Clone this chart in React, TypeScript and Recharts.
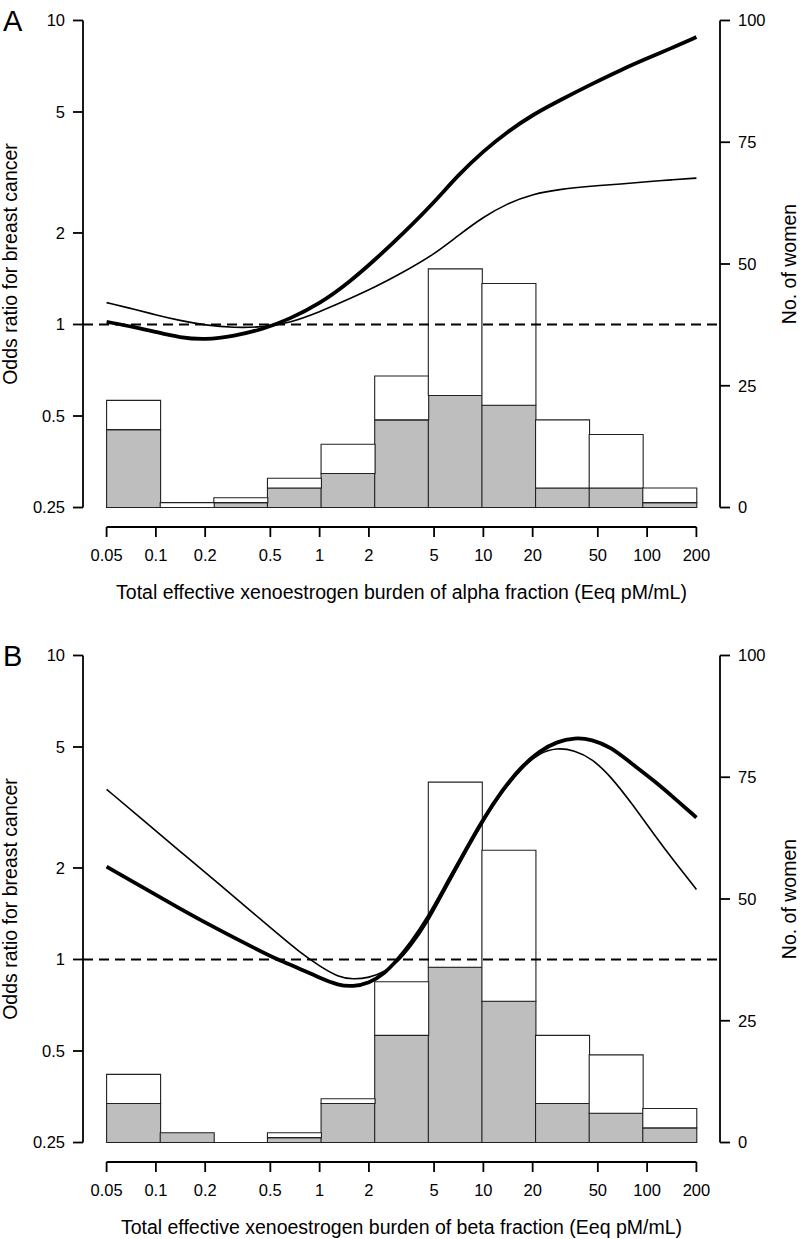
import React from 'react';
import { ComposedChart, Bar, Line, XAxis, YAxis, ReferenceLine } from 'recharts';

// ---------- data ----------
const binLabels = ['0.05–0.1', '0.1–0.2', '0.2–0.5', '0.5–1', '1–2', '2–5', '5–10', '10–20', '20–50', '50–100', '100–200'];

// Panel A (alpha fraction): total women per bin and cases (grey part)
const alphaTotal = [22, 1, 2, 6, 13, 27, 49, 46, 18, 15, 4];
const alphaCases = [16, 0, 1, 4, 7, 18, 23, 21, 4, 4, 1];
// Panel B (beta fraction)
const betaTotal = [14, 2, 0, 2, 9, 33, 74, 60, 22, 18, 7];
const betaCases = [8, 2, 0, 1, 8, 22, 36, 29, 8, 6, 3];

const xTicks = [0.05, 0.1, 0.2, 0.5, 1, 2, 5, 10, 20, 50, 100, 200];
const orTicks = [0.25, 0.5, 1, 2, 5, 10];
const countTicks = [0, 25, 50, 75, 100];

// Odds-ratio curves (thick and thin), panel A
const alphaX = [0.05, 0.075, 0.1, 0.14, 0.2, 0.3, 0.45, 0.65, 1, 1.5, 2.2, 3.2, 5, 7, 10, 14, 20, 30, 45, 70, 100, 140, 200];
const alphaThick = [1.02, 0.98, 0.945, 0.905, 0.89, 0.915, 0.965, 1.04, 1.17, 1.37, 1.64, 1.98, 2.52, 3.1, 3.72, 4.3, 4.9, 5.5, 6.15, 6.9, 7.5, 8.1, 8.82];
const alphaThin = [1.18, 1.12, 1.075, 1.03, 0.995, 0.975, 0.98, 1.01, 1.1, 1.21, 1.33, 1.48, 1.7, 1.96, 2.26, 2.5, 2.69, 2.79, 2.85, 2.9, 2.95, 2.99, 3.03];

// panel B
const betaX = [0.05, 0.08, 0.14, 0.25, 0.4, 0.55, 0.75, 1, 1.3, 1.6, 2, 2.5, 3, 3.6, 4.5, 6, 8, 10, 13, 17, 22, 28, 36, 46, 60, 80, 110, 150, 200];
const betaThick = [2.02, 1.75, 1.47, 1.24, 1.09, 1.0, 0.935, 0.87, 0.822, 0.815, 0.835, 0.9, 1.0, 1.13, 1.34, 1.78, 2.35, 2.9, 3.6, 4.3, 4.85, 5.2, 5.37, 5.3, 5.0, 4.42, 3.88, 3.36, 2.93];
const betaThin = [3.63, 2.93, 2.27, 1.75, 1.41, 1.22, 1.06, 0.95, 0.875, 0.86, 0.87, 0.91, 0.98, 1.1, 1.3, 1.74, 2.3, 2.85, 3.55, 4.25, 4.78, 4.97, 4.88, 4.58, 4.0, 3.28, 2.58, 2.07, 1.7];

// ---------- layout / style ----------
const FONT = '"Liberation Sans", Arial, Helvetica, sans-serif';
const W = 800;
const H = 635;
const LEFT_W = 83;
const RIGHT_W = 80;
const XAXIS_H = 108;
const TOP = 1;
const PLOT_W = W - LEFT_W - RIGHT_W;
const EXT = 0.04; // R-style 4% axis extension
const BAR_PAD = (PLOT_W * EXT) / (1 + 2 * EXT);

const xPad = EXT * Math.log10(200 / 0.05);
const xDomain = [0.05 / Math.pow(10, xPad), 200 * Math.pow(10, xPad)];
const yPad = EXT * Math.log10(10 / 0.25);
const orDomain = [0.25 / Math.pow(10, yPad), 10 * Math.pow(10, yPad)];
const countDomain = [-4, 104];

const AX = { stroke: '#000', strokeWidth: 1.8 };
const tickStyle = { fill: '#000', fontSize: 16.5, fontFamily: FONT };

function Panel({ letter, total, cases, curveX, thick, thin, xTitle }: any) {
  const bars = binLabels.map((b, i) => ({ bin: b, cases: cases[i], rest: total[i] - cases[i] }));
  const thickData = curveX.map((x: number, i: number) => ({ x, or: thick[i] }));
  const thinData = curveX.map((x: number, i: number) => ({ x, or: thin[i] }));
  return (
    <div style={{ position: 'relative', width: W, height: H }}>
      <div style={{ position: 'absolute', left: 3, top: 7, fontFamily: FONT, fontSize: 29, lineHeight: '29px', color: '#000' }}>{letter}</div>
      <ComposedChart
        width={W}
        height={H}
        data={bars}
        margin={{ top: TOP, right: 0, bottom: 0, left: 0 }}
        barCategoryGap={0}
        barGap={0}
      >
        <XAxis
          xAxisId="log"
          dataKey="x"
          type="number"
          scale="log"
          domain={xDomain}
          allowDataOverflow
          ticks={xTicks}
          interval={0}
          height={XAXIS_H}
          axisLine={false}
          tickLine={AX}
          tickSize={10}
          tickMargin={12}
          tick={tickStyle}
          label={{
            content: (p: any) => (
              <text x={p.viewBox.x + p.viewBox.width / 2} y={598.5} textAnchor="middle" fontFamily={FONT} fontSize={19.5} fill="#000">
                {xTitle}
              </text>
            ),
          }}
        />
        <XAxis xAxisId="bins" dataKey="bin" type="category" hide height={0} padding={{ left: BAR_PAD, right: BAR_PAD }} />
        <YAxis
          yAxisId="left"
          type="number"
          scale="log"
          domain={orDomain}
          allowDataOverflow
          ticks={orTicks}
          interval={0}
          width={LEFT_W}
          axisLine={false}
          tickLine={AX}
          tickSize={10}
          tickMargin={8}
          tick={tickStyle}
          label={{
            content: (p: any) => {
              const cy = p.viewBox.y + p.viewBox.height / 2;
              return (
                <text x={16.5} y={cy} transform={`rotate(-90, 16.5, ${cy})`} textAnchor="middle" fontFamily={FONT} fontSize={19.5} fill="#000">
                  Odds ratio for breast cancer
                </text>
              );
            },
          }}
        />
        <YAxis
          yAxisId="right"
          orientation="right"
          type="number"
          domain={countDomain}
          allowDataOverflow
          ticks={countTicks}
          interval={0}
          width={RIGHT_W}
          axisLine={false}
          tickLine={AX}
          tickSize={10}
          tickMargin={8}
          tick={tickStyle}
          label={{
            content: (p: any) => {
              const cy = p.viewBox.y + p.viewBox.height / 2;
              return (
                <text x={796} y={cy} transform={`rotate(-90, 796, ${cy})`} textAnchor="middle" fontFamily={FONT} fontSize={19.5} fill="#000">
                  No. of women
                </text>
              );
            },
          }}
        />
        <Bar xAxisId="bins" yAxisId="right" dataKey="cases" stackId="s" fill="#bebebe" stroke="#222" strokeWidth={1.1} isAnimationActive={false} />
        <Bar xAxisId="bins" yAxisId="right" dataKey="rest" stackId="s" fill="#ffffff" stroke="#222" strokeWidth={1.1} isAnimationActive={false} />
        <ReferenceLine xAxisId="log" yAxisId="right" segment={[{ x: 0.05, y: 0 }, { x: 200, y: 0 }]} stroke="#222" strokeWidth={1.1} ifOverflow="visible" />
        <ReferenceLine xAxisId="log" yAxisId="left" y={1} stroke="#000" strokeWidth={1.8} strokeDasharray="10 6" />
        <ReferenceLine xAxisId="log" yAxisId="left" segment={[{ x: xDomain[0], y: 0.25 }, { x: xDomain[0], y: 10 }]} {...AX} ifOverflow="visible" />
        <ReferenceLine xAxisId="log" yAxisId="right" segment={[{ x: xDomain[1], y: 0 }, { x: xDomain[1], y: 100 }]} {...AX} ifOverflow="visible" />
        <ReferenceLine xAxisId="log" yAxisId="right" segment={[{ x: 0.05, y: countDomain[0] }, { x: 200, y: countDomain[0] }]} {...AX} ifOverflow="visible" />
        <Line data={thinData} dataKey="or" xAxisId="log" yAxisId="left" type="basis" stroke="#000" strokeWidth={1.6} dot={false} activeDot={false} isAnimationActive={false} />
        <Line data={thickData} dataKey="or" xAxisId="log" yAxisId="left" type="basis" stroke="#000" strokeWidth={3.8} dot={false} activeDot={false} isAnimationActive={false} />
      </ComposedChart>
    </div>
  );
}

export default function App() {
  return (
    <div style={{ position: 'absolute', left: 0, top: 0, width: 800, height: 1239, background: '#fff' }}>
      <div style={{ position: 'absolute', left: 0, top: 0 }}>
        <Panel letter="A" total={alphaTotal} cases={alphaCases} curveX={alphaX} thick={alphaThick} thin={alphaThin}
          xTitle="Total effective xenoestrogen burden of alpha fraction (Eeq pM/mL)" />
      </div>
      <div style={{ position: 'absolute', left: 0, top: 635 }}>
        <Panel letter="B" total={betaTotal} cases={betaCases} curveX={betaX} thick={betaThick} thin={betaThin}
          xTitle="Total effective xenoestrogen burden of beta fraction (Eeq pM/mL)" />
      </div>
    </div>
  );
}
